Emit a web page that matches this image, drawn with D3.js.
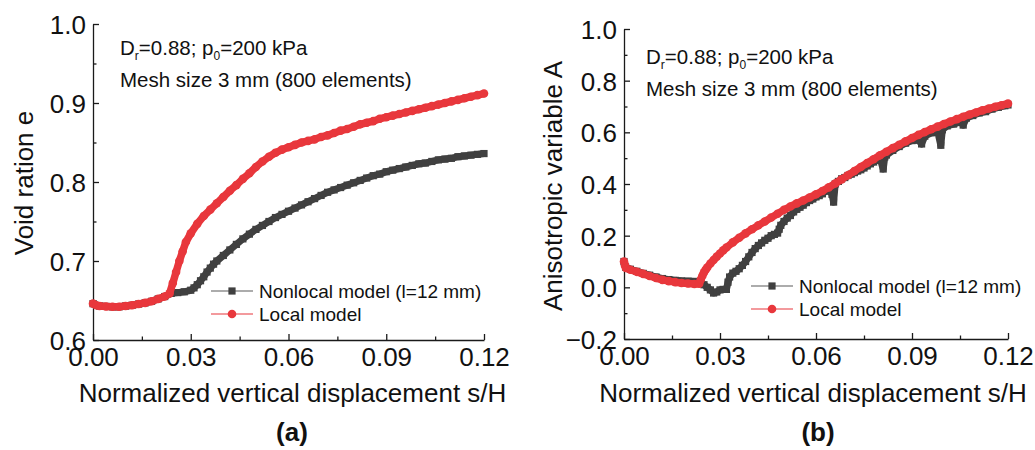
<!DOCTYPE html>
<html>
<head>
<meta charset="utf-8">
<script src="https://cdn.jsdelivr.net/npm/d3@7"></script>
<style>
  html, body { margin: 0; padding: 0; background: #fff; }
  svg { display: block; font-family: "Liberation Sans", Arial, Helvetica, sans-serif; }
</style>
</head>
<body>
<svg id="chart" width="1035" height="450"></svg>
<script>
// ---- Panel (a): void ratio e vs s/H ----
const aLocalS = [0.000,0.001,0.002,0.004,0.006,0.008,0.010,0.012,0.014,0.016,0.018,0.020,0.022,0.0235,0.0245,0.0255,0.0265,0.0275,0.0285,0.030,0.032,0.034,0.036,0.038,0.040,0.042,0.044,0.046,0.048,0.050,0.052,0.054,0.056,0.058,0.060,0.062,0.064,0.066,0.068,0.070,0.072,0.074,0.076,0.078,0.080,0.082,0.084,0.086,0.088,0.090,0.092,0.094,0.096,0.098,0.100,0.102,0.104,0.106,0.108,0.110,0.112,0.114,0.116,0.118,0.120];
const aLocalE = [0.646,0.644,0.643,0.6425,0.642,0.642,0.643,0.644,0.6455,0.647,0.649,0.652,0.655,0.659,0.672,0.686,0.700,0.712,0.724,0.735,0.747,0.757,0.765,0.773,0.781,0.789,0.796,0.804,0.811,0.819,0.826,0.832,0.837,0.841,0.844,0.847,0.850,0.852,0.854,0.857,0.859,0.862,0.865,0.867,0.870,0.873,0.875,0.877,0.880,0.882,0.884,0.886,0.888,0.890,0.892,0.894,0.896,0.898,0.900,0.902,0.904,0.906,0.908,0.910,0.912];

const aNonlocalS = [0.000,0.002,0.004,0.006,0.008,0.010,0.012,0.014,0.016,0.018,0.020,0.022,0.024,0.026,0.028,0.030,0.031,0.032,0.033,0.034,0.035,0.036,0.037,0.038,0.040,0.042,0.044,0.046,0.048,0.050,0.052,0.054,0.056,0.058,0.060,0.062,0.064,0.066,0.068,0.070,0.072,0.074,0.076,0.078,0.080,0.082,0.084,0.086,0.088,0.090,0.092,0.094,0.096,0.098,0.100,0.102,0.104,0.106,0.108,0.110,0.112,0.114,0.116,0.118,0.120];
const aNonlocalE = [0.646,0.643,0.6425,0.642,0.642,0.643,0.644,0.6455,0.647,0.649,0.652,0.655,0.659,0.660,0.661,0.663,0.666,0.670,0.675,0.680,0.686,0.691,0.696,0.700,0.707,0.714,0.721,0.728,0.734,0.740,0.745,0.750,0.755,0.759,0.763,0.767,0.771,0.775,0.779,0.783,0.787,0.790,0.793,0.796,0.799,0.802,0.805,0.808,0.810,0.813,0.815,0.817,0.819,0.821,0.823,0.824,0.826,0.828,0.829,0.830,0.832,0.833,0.834,0.835,0.836];

// ---- Panel (b): anisotropic variable A vs s/H ----
const bLocalS = [0.000,0.0003,0.0006,0.002,0.004,0.006,0.008,0.010,0.012,0.014,0.016,0.018,0.020,0.022,0.0235,0.024,0.0245,0.025,0.0255,0.026,0.027,0.028,0.029,0.030,0.031,0.032,0.034,0.036,0.038,0.040,0.042,0.044,0.046,0.048,0.050,0.052,0.054,0.056,0.058,0.060,0.062,0.064,0.066,0.068,0.070,0.072,0.074,0.076,0.078,0.080,0.082,0.084,0.086,0.088,0.090,0.092,0.094,0.096,0.098,0.100,0.102,0.104,0.106,0.108,0.110,0.112,0.114,0.116,0.118,0.120];
const bLocalA = [0.100,0.085,0.075,0.068,0.060,0.052,0.044,0.036,0.029,0.024,0.020,0.017,0.015,0.013,0.014,0.030,0.045,0.058,0.068,0.077,0.092,0.106,0.119,0.131,0.143,0.154,0.174,0.192,0.209,0.225,0.240,0.255,0.270,0.285,0.300,0.313,0.325,0.336,0.348,0.360,0.373,0.387,0.402,0.418,0.434,0.450,0.466,0.481,0.496,0.511,0.525,0.539,0.552,0.565,0.578,0.590,0.601,0.612,0.622,0.632,0.642,0.651,0.660,0.669,0.677,0.685,0.692,0.699,0.705,0.711];

const bNonlocalS = [0.000,0.0005,0.002,0.004,0.006,0.008,0.010,0.012,0.014,0.016,0.018,0.020,0.022,0.0235,0.025,0.026,0.027,0.028,0.029,0.030,0.031,0.032,0.0325,0.033,0.034,0.035,0.036,0.037,0.038,0.039,0.040,0.041,0.042,0.043,0.044,0.045,0.046,0.047,0.048,0.0485,0.049,0.050,0.051,0.052,0.053,0.054,0.055,0.056,0.057,0.058,0.059,0.060,0.061,0.062,0.063,0.064,0.065,0.0655,0.066,0.067,0.068,0.069,0.070,0.071,0.072,0.073,0.074,0.075,0.076,0.077,0.078,0.079,0.080,0.081,0.0815,0.082,0.084,0.086,0.088,0.090,0.092,0.093,0.094,0.096,0.098,0.099,0.0995,0.101,0.103,0.105,0.106,0.107,0.109,0.111,0.113,0.115,0.117,0.119,0.120];
const bNonlocalA = [0.100,0.078,0.070,0.062,0.054,0.047,0.040,0.034,0.030,0.027,0.025,0.024,0.023,0.022,0.010,0.000,-0.010,-0.022,-0.018,-0.010,-0.008,-0.008,0.020,0.040,0.055,0.062,0.072,0.085,0.100,0.118,0.135,0.150,0.162,0.172,0.182,0.190,0.200,0.205,0.210,0.225,0.240,0.255,0.268,0.278,0.292,0.302,0.310,0.318,0.328,0.336,0.342,0.350,0.355,0.362,0.372,0.380,0.360,0.330,0.400,0.410,0.420,0.425,0.433,0.438,0.444,0.450,0.455,0.462,0.470,0.478,0.485,0.492,0.500,0.458,0.505,0.512,0.530,0.545,0.558,0.568,0.570,0.555,0.585,0.598,0.605,0.550,0.610,0.625,0.632,0.640,0.628,0.655,0.665,0.675,0.680,0.690,0.697,0.703,0.706];

const xTicks = [0.00, 0.03, 0.06, 0.09, 0.12];
const xMinor = [0.015, 0.045, 0.075, 0.105];
const aYTicks = [0.6, 0.7, 0.8, 0.9, 1.0];
const aYMinor = [0.65, 0.75, 0.85, 0.95];
const bYTicks = [-0.2, 0.0, 0.2, 0.4, 0.6, 0.8, 1.0];
const bYMinor = [-0.1, 0.1, 0.3, 0.5, 0.7, 0.9];

const seriesNames = ["Nonlocal model (l=12 mm)", "Local model"];
const RED = "#e8373c";
const GRAY = "#404040";

const svg = d3.select("#chart");

function zip(xs, ys) { return xs.map((x, i) => [x, ys[i]]); }

function drawPanel(cfg) {
  const g = svg.append("g");
  const x = d3.scaleLinear().domain([0, 0.12]).range([cfg.left, cfg.right]);
  const y = d3.scaleLinear().domain(cfg.yDomain).range([cfg.bottom, cfg.top]);

  // axes (ticks point inward)
  const xAxis = d3.axisBottom(x).tickValues(xTicks).tickFormat(d3.format(".2f"))
    .tickSizeInner(-6).tickSizeOuter(0).tickPadding(8);
  const yAxis = d3.axisLeft(y).tickValues(cfg.yTicks).tickFormat(d3.format(".1f"))
    .tickSizeInner(-6).tickSizeOuter(0).tickPadding(7);

  const gx = g.append("g").attr("transform", `translate(0,${cfg.bottom})`).call(xAxis);
  const gy = g.append("g").attr("transform", `translate(${cfg.left},0)`).call(yAxis);
  g.append("g").attr("transform", `translate(0,${cfg.bottom})`)
    .call(d3.axisBottom(x).tickValues(xMinor).tickFormat("").tickSizeInner(-3.5).tickSizeOuter(0))
    .select(".domain").remove();
  g.append("g").attr("transform", `translate(${cfg.left},0)`)
    .call(d3.axisLeft(y).tickValues(cfg.yMinor).tickFormat("").tickSizeInner(-3.5).tickSizeOuter(0))
    .select(".domain").remove();

  g.selectAll(".domain, .tick line").attr("stroke", "#1a1a1a").attr("stroke-width", 1.3);
  gx.selectAll("text").attr("font-size", 26).attr("fill", "#111").attr("font-family", null);
  gy.selectAll("text").attr("font-size", 26).attr("fill", "#111").attr("font-family", null);
  gy.selectAll(".tick text").attr("dy", "0.36em");
  gx.selectAll(".tick text").attr("dy", "0.70em");

  const line = d3.line().x(d => x(d[0])).y(d => y(d[1]));

  // nonlocal series: dark squares
  const nl = zip(cfg.nlS, cfg.nlV);
  g.append("path").datum(nl).attr("d", line).attr("fill", "none")
    .attr("stroke", GRAY).attr("stroke-width", 7).attr("stroke-linejoin", "round");
  g.append("g").selectAll("rect").data(nl).join("rect")
    .attr("x", d => x(d[0]) - 3.6).attr("y", d => y(d[1]) - 3.6)
    .attr("width", 7.2).attr("height", 7.2).attr("fill", GRAY);

  // local series: red circles
  const lo = zip(cfg.loS, cfg.loV);
  g.append("path").datum(lo).attr("d", line).attr("fill", "none")
    .attr("stroke", RED).attr("stroke-width", 7.5).attr("stroke-linejoin", "round");
  g.append("g").selectAll("circle").data(lo).join("circle")
    .attr("cx", d => x(d[0])).attr("cy", d => y(d[1])).attr("r", 4.3).attr("fill", RED);

  // annotation
  const ann = g.append("text").attr("x", cfg.annX).attr("y", cfg.annY).attr("font-size", 20.5).attr("fill", "#111");
  ann.append("tspan").text("D");
  ann.append("tspan").attr("font-size", 12).attr("dy", 5).text("r");
  ann.append("tspan").attr("dy", -5).text("=0.88; p");
  ann.append("tspan").attr("font-size", 12).attr("dy", 5).text("0");
  ann.append("tspan").attr("dy", -5).text("=200 kPa");
  g.append("text").attr("x", cfg.annX).attr("y", cfg.annY + 32).attr("font-size", 20.5).attr("fill", "#111")
    .text("Mesh size 3 mm (800 elements)");

  // legend
  const lg = g.append("g");
  const items = [{name: seriesNames[0], color: GRAY, lineColor: "#5a5a5a", shape: "square"},
                 {name: seriesNames[1], color: RED, lineColor: RED, shape: "circle"}];
  items.forEach((it, i) => {
    const yy = cfg.legY + i * 23;
    lg.append("line").attr("x1", cfg.legX).attr("x2", cfg.legX + 42).attr("y1", yy).attr("y2", yy)
      .attr("stroke", it.lineColor).attr("stroke-width", 1.1);
    if (it.shape === "square") {
      lg.append("rect").attr("x", cfg.legX + 21 - 3.6).attr("y", yy - 3.6).attr("width", 7.2).attr("height", 7.2).attr("fill", it.color);
    } else {
      lg.append("circle").attr("cx", cfg.legX + 21).attr("cy", yy).attr("r", 4.3).attr("fill", it.color);
    }
    lg.append("text").attr("x", cfg.legX + 48).attr("y", yy + 6.5).attr("font-size", 19).attr("fill", "#111").text(it.name);
  });

  // axis titles
  g.append("text").attr("x", (cfg.left + cfg.right) / 2 + cfg.xTitleShift).attr("y", 402)
    .attr("text-anchor", "middle").attr("font-size", 26).attr("fill", "#111")
    .text("Normalized vertical displacement s/H");
  g.append("text").attr("transform", `translate(${cfg.yTitleX},${cfg.yTitleY}) rotate(-90)`)
    .attr("text-anchor", "middle").attr("font-size", 26).attr("fill", "#111").text(cfg.yTitle);

  // panel label
  g.append("text").attr("x", cfg.labelX).attr("y", 441).attr("text-anchor", "middle")
    .attr("font-size", 26).attr("font-weight", "bold").attr("fill", "#111").text(cfg.label);
}

drawPanel({
  left: 93, right: 484, top: 24, bottom: 340, yDomain: [0.6, 1.0],
  yTicks: aYTicks, yMinor: aYMinor,
  nlS: aNonlocalS, nlV: aNonlocalE, loS: aLocalS, loV: aLocalE,
  annX: 120, annY: 55, legX: 211, legY: 291,
  yTitle: "Void ration e", yTitleX: 33, yTitleY: 183, xTitleShift: 4, labelX: 292, label: "(a)"
});

drawPanel({
  left: 624, right: 1008, top: 29, bottom: 339, yDomain: [-0.2, 1.0],
  yTicks: bYTicks, yMinor: bYMinor,
  nlS: bNonlocalS, nlV: bNonlocalA, loS: bLocalS, loV: bLocalA,
  annX: 646, annY: 64, legX: 751, legY: 286,
  yTitle: "Anisotropic variable A", yTitleX: 562, yTitleY: 186, xTitleShift: -3, labelX: 818, label: "(b)"
});
</script>
</body>
</html>
